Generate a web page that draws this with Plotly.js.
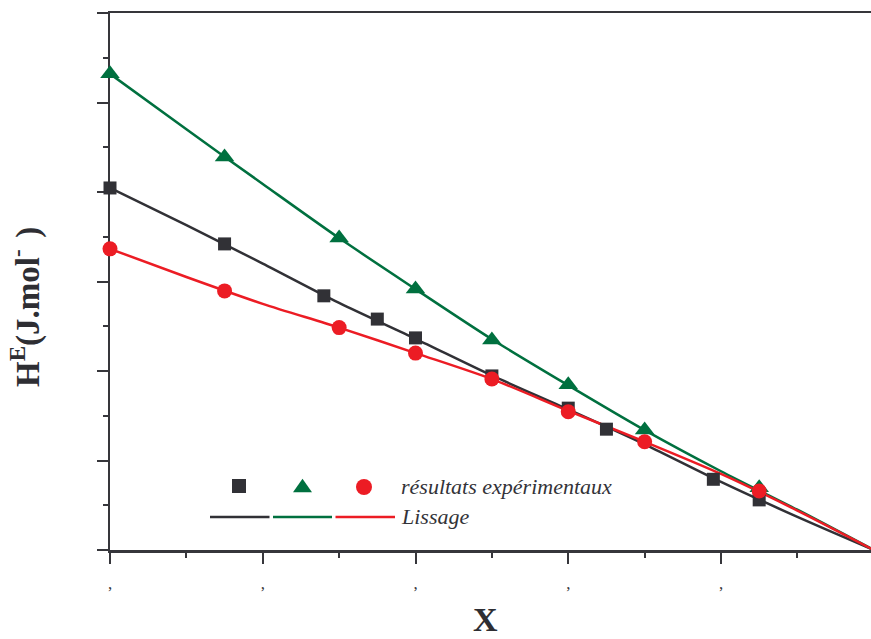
<!DOCTYPE html>
<html>
<head>
<meta charset="utf-8">
<script src="https://cdn.plot.ly/plotly-3.0.1.min.js"></script>
<style>
  html, body { margin: 0; padding: 0; background: #ffffff; }
  #chart { width: 871px; height: 639px; }
</style>
</head>
<body>
<div id="chart"></div>
<script>
// Excess enthalpy H^E (J/mol) against mole fraction X, three systems.
// Experimental points
const xTri  = [0, 0.15, 0.30, 0.40, 0.50, 0.60, 0.70, 0.85];
const heTri = [1064, 878, 697, 583, 469, 369, 268, 139];

const xSq  = [0, 0.15, 0.28, 0.35, 0.40, 0.50, 0.60, 0.65, 0.79, 0.85];
const heSq = [809, 684, 568, 516, 474, 389, 317, 270, 158, 112];

const xCirc  = [0, 0.15, 0.30, 0.40, 0.50, 0.60, 0.70, 0.85];
const heCirc = [673, 579, 497, 440, 382, 309, 242, 132];

// Smoothed curves (Lissage)
const xFit     = [0, 0.1, 0.2, 0.3, 0.4, 0.5, 0.6, 0.7, 0.8, 0.9, 1.0];
const fitTri   = [1064, 940, 818, 697, 583, 471, 368, 268, 176, 90, 0];
const fitSq    = [809, 726, 640, 552, 472, 390, 314, 236, 152, 74, 0];
const fitCirc  = [673, 610, 550, 497, 440, 382, 311, 242, 170, 88, 0];

// Axis ticks
const xTickVals = [0, 0.2, 0.4, 0.6, 0.8];
const xTickText = [',', ',', ',', ',', ','];

const legendPoints = 'résultats expérimentaux';
const legendFit = 'Lissage';

const BLACK = '#313136';
const GREEN = '#00703f';
const RED   = '#ec1c24';
const AX    = '#36363b';
const SERIF = 'Liberation Serif';

// plot area: 110..871 px horizontally, 13..550 px vertically
const L = 110, T = 13, W = 761, H = 537;
const px = v => (v - L) / W;
const py = v => (T + H - v) / H;

const fitLine = (x, y, c) => ({
  x: x, y: y, type: 'scatter', mode: 'lines',
  line: { color: c, width: 2.5, shape: 'spline', smoothing: 0.8 },
  hoverinfo: 'skip'
});
const pts = (x, y, c, sym, size) => ({
  x: x, y: y, type: 'scatter', mode: 'markers', cliponaxis: false,
  marker: { color: c, symbol: sym, size: size, line: { width: 0 } }
});

const data = [
  fitLine(xFit, fitSq, BLACK),
  fitLine(xFit, fitTri, GREEN),
  fitLine(xFit, fitCirc, RED),
  pts(xSq, heSq, BLACK, 'square', 13),
  pts(xTri, heTri, GREEN, 'triangle-up', 17),
  pts(xCirc, heCirc, RED, 'circle', 15)
];

const shapes = [
  { type: 'rect', xref: 'paper', yref: 'paper', xsizemode: 'pixel', ysizemode: 'pixel',
    xanchor: px(239), yanchor: py(486), x0: -7, x1: 7, y0: -7, y1: 7,
    fillcolor: BLACK, line: { width: 0 } },
  { type: 'path', xref: 'paper', yref: 'paper', xsizemode: 'pixel', ysizemode: 'pixel',
    xanchor: px(302.5), yanchor: py(485.5), path: 'M -9.5 -6.8 L 9.5 -6.8 L 0 6.8 Z',
    fillcolor: GREEN, line: { width: 0 } },
  { type: 'circle', xref: 'paper', yref: 'paper', xsizemode: 'pixel', ysizemode: 'pixel',
    xanchor: px(364), yanchor: py(487), x0: -8, x1: 8, y0: -8, y1: 8,
    fillcolor: RED, line: { width: 0 } },
  { type: 'line', xref: 'paper', yref: 'paper', x0: px(210), x1: px(269.5), y0: py(517), y1: py(517),
    line: { color: BLACK, width: 2.5 } },
  { type: 'line', xref: 'paper', yref: 'paper', x0: px(273), x1: px(332), y0: py(517), y1: py(517),
    line: { color: GREEN, width: 2.5 } },
  { type: 'line', xref: 'paper', yref: 'paper', x0: px(335.5), x1: px(395), y0: py(517), y1: py(517),
    line: { color: RED, width: 2.5 } }
];

const annotations = [
  { text: legendPoints, xref: 'paper', yref: 'paper',
    x: px(399), y: py(486), xanchor: 'left', yanchor: 'middle', showarrow: false,
    font: { family: SERIF, size: 22, style: 'italic', color: '#333338' } },
  { text: legendFit, xref: 'paper', yref: 'paper',
    x: px(399), y: py(516), xanchor: 'left', yanchor: 'middle', showarrow: false,
    font: { family: SERIF, size: 22, style: 'italic', color: '#333338' } },
  { text: 'X', xref: 'paper', yref: 'paper',
    x: px(485), y: py(619), xanchor: 'center', yanchor: 'middle', showarrow: false,
    font: { family: SERIF, size: 34, weight: 'bold', color: '#2e2e33' } },
  { text: 'H<sup>E</sup>(J.mol<sup>-&nbsp;&nbsp;</sup>)', xref: 'paper', yref: 'paper',
    x: px(25), y: py(307), xanchor: 'center', yanchor: 'middle', textangle: -90, showarrow: false,
    font: { family: SERIF, size: 33, weight: 'bold', color: '#2e2e33' } }
];

const layout = {
  width: 871, height: 639,
  margin: { l: L, r: 0, t: T, b: 639 - T - H },
  paper_bgcolor: '#ffffff', plot_bgcolor: '#ffffff',
  showlegend: false,
  xaxis: {
    range: [0, (871 - L) / 763.75],
    showline: true, linecolor: AX, linewidth: 2.5, mirror: true, layer: 'below traces',
    showgrid: false, zeroline: false,
    ticks: 'outside', ticklen: 11, tickwidth: 2, tickcolor: AX,
    tickmode: 'array', tickvals: xTickVals, ticktext: xTickText,
    ticklabelstandoff: 5,
    tickfont: { family: SERIF, size: 17, color: AX },
    minor: { tickmode: 'linear', tick0: 0, dtick: 0.1, ticks: 'outside', ticklen: 5,
             tickwidth: 2, tickcolor: AX, showgrid: false }
  },
  yaxis: {
    range: [0, 1200],
    showline: true, linecolor: AX, linewidth: 2.5, layer: 'below traces',
    showgrid: false, zeroline: false,
    ticks: 'outside', ticklen: 11, tickwidth: 2, tickcolor: AX,
    tickmode: 'linear', tick0: 0, dtick: 200, showticklabels: false,
    minor: { tickmode: 'linear', tick0: 0, dtick: 100, ticks: 'outside', ticklen: 5,
             tickwidth: 2, tickcolor: AX, showgrid: false }
  },
  shapes: shapes,
  annotations: annotations
};

Plotly.newPlot('chart', data, layout, { displayModeBar: false, staticPlot: true });
</script>
</body>
</html>
